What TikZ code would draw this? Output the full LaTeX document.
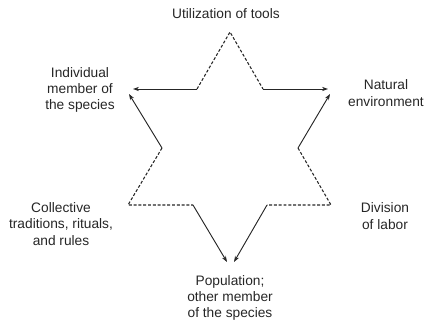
\documentclass[tikz,border=0pt]{standalone}
\usepackage{fontspec}
\setmainfont{Liberation Sans}
\usetikzlibrary{arrows.meta}

\begin{document}
\begin{tikzpicture}[x=0.75pt, y=-0.75pt,
    lbl/.style={align=center, text=black!85, font=\fontsize{10.3}{12.2}\selectfont, inner sep=0pt},
    dashedge/.style={draw=black!85, line width=0.8pt, dash pattern=on 2.2pt off 1.4pt},
    arr/.style={draw=black!85, line width=0.7pt, -{Stealth[length=4.5pt, width=3.2pt]}}]
    \useasboundingbox (0,0) rectangle (424,322);

    % Pontas e cantos da estrela
    \coordinate (T)   at (230,32);
    \coordinate (UL)  at (197,89);
    \coordinate (UR)  at (263,89);
    \coordinate (ML)  at (162,148);
    \coordinate (MR)  at (298,148);
    \coordinate (LL)  at (128,205);
    \coordinate (LR)  at (331,205);
    \coordinate (BL)  at (193,205);
    \coordinate (BR)  at (267,205);

    % Pontas das setas
    \coordinate (tipUL) at (133,89);
    \coordinate (tipUR) at (328,89);
    \coordinate (tipL)  at (129,94);
    \coordinate (tipR)  at (330,94);
    \coordinate (tipBL) at (227,262);
    \coordinate (tipBR) at (234,262);

    % Textos
    \node[lbl] (tools) at (226,14) {Utilization of tools};
    \node[lbl] (indiv) at (80,90) {Individual\\member of\\the species};
    \node[lbl] (natur) at (386,93) {Natural\\environment};
    \node[lbl] (colle) at (61,224) {Collective\\traditions, rituals,\\and rules};
    \node[lbl] (divis) at (385,216) {Division\\of labor};
    \node[lbl] (popul) at (230,298) {Population;\\other member\\of the species};

    % Lados tracejados
    \draw[dashedge] (UL) -- (T) -- (UR);
    \draw[dashedge] (ML) -- (LL) -- (BL);
    \draw[dashedge] (MR) -- (LR) -- (BR);

    % Setas
    \draw[arr] (UL) -- (tipUL);
    \draw[arr] (UR) -- (tipUR);
    \draw[arr] (ML) -- (tipL);
    \draw[arr] (MR) -- (tipR);
    \draw[arr] (BL) -- (tipBL);
    \draw[arr] (BR) -- (tipBR);

\end{tikzpicture}
\end{document}
